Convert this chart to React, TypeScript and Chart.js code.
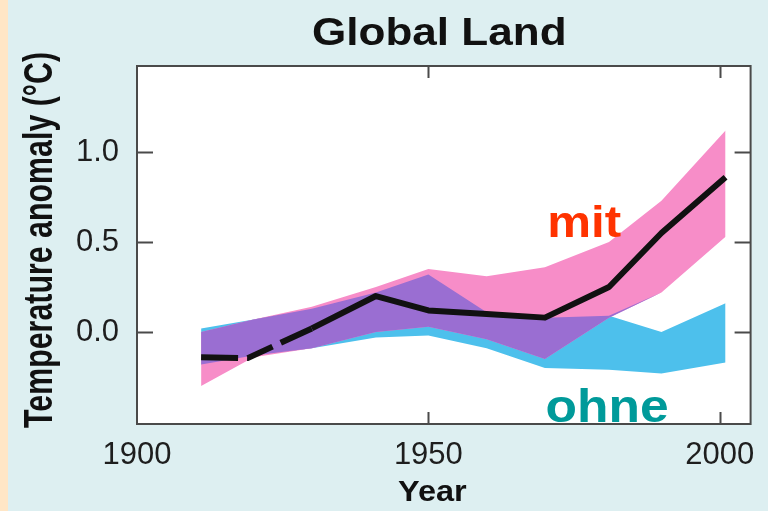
import { useEffect, useRef } from 'react';
import { Chart, registerables } from 'chart.js';

Chart.register(...registerables);

// ---- data ----
const bandYears = [1911, 1920, 1930, 1941, 1950, 1960, 1970, 1981, 1990, 2001];
const mitUpper = [0.0, 0.07, 0.14, 0.25, 0.35, 0.31, 0.36, 0.5, 0.73, 1.12];
const mitLower = [-0.3, -0.14, -0.09, 0.0, 0.03, -0.04, -0.15, 0.08, 0.22, 0.53];
const ohneUpper = [0.02, 0.07, 0.13, 0.22, 0.32, 0.11, 0.08, 0.09, 0.0, 0.16];
const ohneLower = [-0.18, -0.13, -0.09, -0.03, -0.02, -0.09, -0.2, -0.21, -0.23, -0.17];
const meanYears = [1911, 1919, 1930, 1941, 1950, 1960, 1970, 1981, 1990, 2001];
const meanValues = [-0.14, -0.145, 0.02, 0.2, 0.12, 0.1, 0.08, 0.25, 0.55, 0.86];
const dashedUntilYear = 1930;
const xTickValues = [1900, 1950, 2000];
const xInnerTickValues = [1950, 2000];
const yTickValues = [0.0, 0.5, 1.0];

const titleText = 'Global Land';
const xTitleText = 'Year';
const yTitleText = 'Temperature anomaly (°C)';
const mitText = 'mit';
const ohneText = 'ohne';

// ---- style ----
const PINK = '#F78DC8';
const BLUE = '#4DC0EC';
const PURPLE = '#9A6ED2';
const LINE = '#111111';
const FRAME = '#4a4a4a';
const SANS = '"Liberation Sans", Arial, Helvetica, sans-serif';

const overlapLower = bandYears.map((_, i) => Math.max(mitLower[i], ohneLower[i]));
const overlapUpper = bandYears.map((_, i) =>
  Math.max(overlapLower[i], Math.min(mitUpper[i], ohneUpper[i]))
);

const pts = (xs: number[], ys: number[]) => xs.map((x, i) => ({ x, y: ys[i] }));

const bandStyle = (color: string | false) => ({
  borderColor: 'rgba(0,0,0,0)',
  borderWidth: 0,
  backgroundColor: color || 'rgba(0,0,0,0)',
  pointRadius: 0,
  pointHoverRadius: 0,
  tension: 0,
});

const framePlugin = {
  id: 'frameAndText',
  beforeDatasetsDraw(chart: any) {
    const { ctx, chartArea: a } = chart;
    ctx.save();
    ctx.fillStyle = '#ffffff';
    ctx.fillRect(a.left, a.top, a.right - a.left, a.bottom - a.top);
    ctx.restore();
  },
  afterDatasetsDraw(chart: any) {
    const { ctx, chartArea: a, scales } = chart;
    const xs = scales.x;
    const ys = scales.y;
    ctx.save();
    ctx.strokeStyle = FRAME;
    ctx.lineWidth = 2;
    ctx.strokeRect(a.left, a.top, a.right - a.left, a.bottom - a.top);
    ctx.beginPath();
    yTickValues.forEach((v) => {
      const y = Math.round(ys.getPixelForValue(v)) + 0.5;
      ctx.moveTo(a.left, y);
      ctx.lineTo(a.left + 16, y);
      ctx.moveTo(a.right, y);
      ctx.lineTo(a.right - 16, y);
    });
    xInnerTickValues.forEach((v) => {
      const x = Math.round(xs.getPixelForValue(v)) + 0.5;
      ctx.moveTo(x, a.top);
      ctx.lineTo(x, a.top + 12);
      ctx.moveTo(x, a.bottom);
      ctx.lineTo(x, a.bottom - 12);
    });
    ctx.stroke();
    ctx.restore();
  },
  afterDraw(chart: any) {
    const { ctx, chartArea: a, scales } = chart;
    const xs = scales.x;
    const ys = scales.y;
    const put = (
      text: string,
      x: number,
      y: number,
      font: string,
      color: string,
      sx: number,
      align: CanvasTextAlign
    ) => {
      ctx.save();
      ctx.font = font;
      ctx.fillStyle = color;
      ctx.textAlign = align;
      ctx.textBaseline = 'alphabetic';
      ctx.translate(x, y);
      ctx.scale(sx, 1);
      ctx.fillText(text, 0, 0);
      ctx.restore();
    };
    // title
    put(titleText, (a.left + a.right) / 2 - 4.5, 45, `bold 39px ${SANS}`, '#111', 1.13, 'center');
    // x title
    put(xTitleText, xs.getPixelForValue(1950) + 4, 501, `bold 29px ${SANS}`, '#111', 1.12, 'center');
    // series labels
    put(mitText, xs.getPixelForValue(1970.4), ys.getPixelForValue(0.53), `bold 44px ${SANS}`, '#FF3300', 1.12, 'left');
    put(ohneText, xs.getPixelForValue(1970.1), a.bottom - 2, `bold 46px ${SANS}`, '#009A9A', 1.12, 'left');
    // y title (rotated)
    ctx.save();
    ctx.font = `bold 40px ${SANS}`;
    ctx.fillStyle = '#111';
    ctx.textAlign = 'center';
    ctx.textBaseline = 'alphabetic';
    const w = ctx.measureText(yTitleText).width;
    const targetLen = 376;
    ctx.translate(52, 240);
    ctx.rotate(-Math.PI / 2);
    ctx.scale(targetLen / w, 1.0);
    ctx.fillText(yTitleText, 0, 0);
    ctx.restore();
  },
};

export default function App() {
  const ref = useRef<HTMLCanvasElement | null>(null);

  useEffect(() => {
    if (!ref.current) return;
    const chart = new Chart(ref.current, {
      type: 'line',
      data: {
        datasets: [
          {
            data: pts(meanYears, meanValues),
            borderColor: LINE,
            borderWidth: 6,
            borderJoinStyle: 'round',
            pointRadius: 0,
            pointHoverRadius: 0,
            fill: false,
            tension: 0,
            segment: {
              borderDash: (c: any) =>
                c.p0.parsed.x < dashedUntilYear ? [37, 9, 28, 9, 1000, 0] : undefined,
            },
          } as any,
          { data: pts(bandYears, overlapUpper), fill: '+1', ...bandStyle(PURPLE) },
          { data: pts(bandYears, overlapLower), fill: false, ...bandStyle(false) },
          { data: pts(bandYears, mitUpper), fill: '+1', ...bandStyle(PINK) },
          { data: pts(bandYears, mitLower), fill: false, ...bandStyle(false) },
          { data: pts(bandYears, ohneUpper), fill: '+1', ...bandStyle(BLUE) },
          { data: pts(bandYears, ohneLower), fill: false, ...bandStyle(false) },
        ],
      },
      options: {
        animation: false,
        responsive: false,
        devicePixelRatio: 1,
        events: [],
        layout: { padding: { top: 66, right: 16, left: 0, bottom: 0 } },
        plugins: {
          legend: { display: false },
          tooltip: { enabled: false },
          title: { display: false },
        },
        scales: {
          x: {
            type: 'linear',
            min: 1900,
            max: 2005.3,
            grid: { display: false, drawTicks: false, tickLength: 0 },
            border: { display: false },
            afterBuildTicks: (s: any) => {
              s.ticks = xTickValues.map((v) => ({ value: v }));
            },
            afterFit: (s: any) => {
              s.height = 87;
            },
            ticks: {
              padding: 13,
              maxRotation: 0,
              autoSkip: false,
              color: '#1e1e1e',
              font: { family: SANS, size: 31 },
              callback: (v: any) => String(v),
            },
          },
          y: {
            type: 'linear',
            min: -0.511,
            max: 1.478,
            grid: { display: false, drawTicks: false, tickLength: 0 },
            border: { display: false },
            afterBuildTicks: (s: any) => {
              s.ticks = yTickValues.map((v) => ({ value: v }));
            },
            afterFit: (s: any) => {
              s.width = 137;
            },
            ticks: {
              padding: 18,
              color: '#1e1e1e',
              font: { family: SANS, size: 31 },
              callback: (v: any) => Number(v).toFixed(1),
            },
          },
        },
      } as any,
      plugins: [framePlugin],
    });
    return () => chart.destroy();
  }, []);

  return (
    <div
      style={{
        position: 'absolute',
        left: 0,
        top: 0,
        width: 768,
        height: 511,
        background: 'linear-gradient(to right, #FFE6C6 0px, #FFE6C6 8px, #DDEFF1 8px, #DDEFF1 100%)',
      }}
    >
      <canvas ref={ref} width={768} height={511} style={{ display: 'block', width: 768, height: 511 }} />
    </div>
  );
}
